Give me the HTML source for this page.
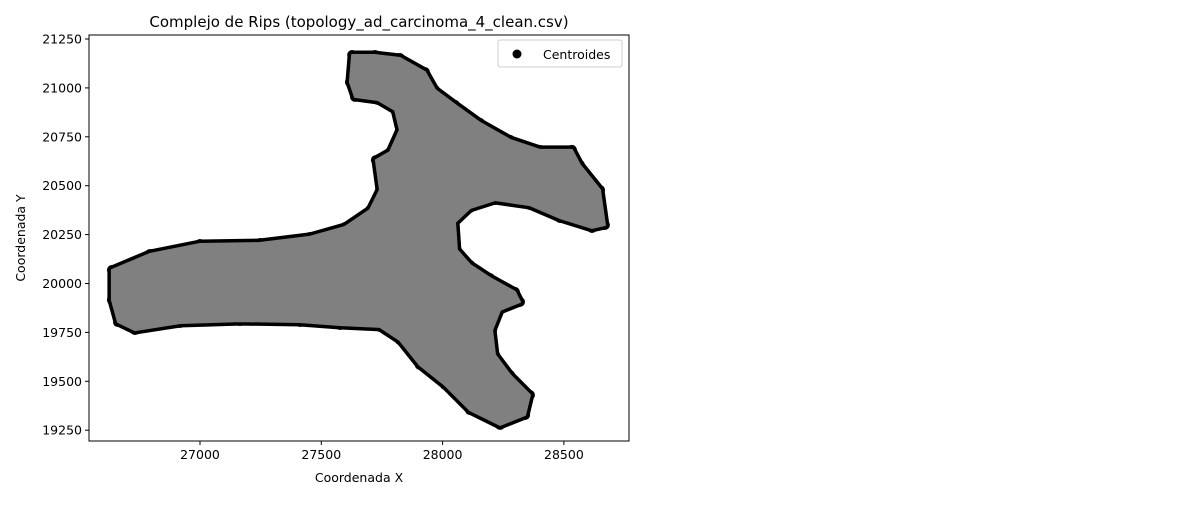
<!DOCTYPE html>
<html><head><meta charset="utf-8"><style>
body{margin:0;background:#fff}
svg text{font-family:"DejaVu Sans","Liberation Sans",sans-serif;fill:#000}
</style></head><body>
<svg id="chart" width="1200" height="500">
<rect width="1200" height="500" fill="#fff"/>
<text x="359" y="27" font-size="15" text-anchor="middle">Complejo de Rips (topology_ad_carcinoma_4_clean.csv)</text>
<g id="plot"></g>
<rect x="89" y="35" width="540" height="406" fill="none" stroke="#000" stroke-width="1"/>
<g id="xticks"></g><g id="yticks"></g>
<text x="359" y="482" font-size="12.5" text-anchor="middle">Coordenada X</text>
<text x="25" y="238" font-size="12.5" text-anchor="middle" transform="rotate(-90 25 238)">Coordenada Y</text>
<g>
<rect x="498" y="40" width="124" height="27" rx="2" fill="#fff" stroke="#ccc"/>
<circle cx="517" cy="54" r="4.5" fill="#000"/>
<text x="543" y="59" font-size="12.5">Centroides</text>
</g>
</svg>
<script>
const xs=[26637,26794,27000,27247,27453,27598,27701,27742,27725,27783,27824,27804,27734,27639,27618,27627,27721,27824,27927,27969,28051,28154,28278,28401,28533,28566,28649,28669,28616,28484,28360,28216,28113,28051,28059,28113,28195,28298,28319,28237,28204,28216,28278,28360,28340,28237,28113,28010,27906,27824,27742,27577,27412,27165,26918,26732,26662,26637];
const ys=[20069,20151,20202,20207,20238,20289,20376,20478,20631,20672,20785,20887,20938,20954,21030,21168,21168,21153,21081,20989,20913,20821,20734,20683,20683,20606,20478,20299,20284,20335,20401,20427,20386,20314,20171,20095,20028,19957,19906,19865,19762,19635,19532,19430,19328,19277,19353,19481,19584,19711,19778,19788,19803,19808,19798,19762,19803,19916];
const xTickVals=[27000,27500,28000,28500];
const yTickVals=[19250,19500,19750,20000,20250,20500,20750,21000,21250];
const NS='http://www.w3.org/2000/svg';
function sx(v){return 200+(v-27000)*121.3/500;}
function sy(v){return 39+(21250-v)*48.9/250;}
function mk(t,a,p){const e=document.createElementNS(NS,t);for(const k in a)e.setAttribute(k,a[k]);p.appendChild(e);return e;}
const plot=document.getElementById('plot');
const pts=xs.map((x,i)=>sx(x).toFixed(1)+','+sy(ys[i]).toFixed(1)).join(' ');
const outline=mk('polygon',{points:pts,fill:'none',stroke:'#000','stroke-width':9,'stroke-linejoin':'round'},plot);


xs.forEach((x,i)=>{const c=mk('circle',{cx:sx(x),cy:sy(ys[i]),r:5,fill:'#000'},plot);

});
const poly=mk('polygon',{points:pts,fill:'#808080',stroke:'#808080','stroke-width':2,'stroke-linejoin':'round'},plot);


const xt=document.getElementById('xticks');
xTickVals.forEach(v=>{const g=mk('g',{},xt);


mk('line',{x1:sx(v),x2:sx(v),y1:441,y2:445,stroke:'#000'},g);
const t=mk('text',{x:sx(v),y:459,'font-size':12.5,'text-anchor':'middle'},g);t.textContent=v;});
const yt=document.getElementById('yticks');
yTickVals.forEach(v=>{const g=mk('g',{},yt);


mk('line',{x1:85,x2:89,y1:sy(v),y2:sy(v),stroke:'#000'},g);
const t=mk('text',{x:82,y:sy(v)+4.5,'font-size':12.5,'text-anchor':'end'},g);t.textContent=v;});
</script>
</body></html>
